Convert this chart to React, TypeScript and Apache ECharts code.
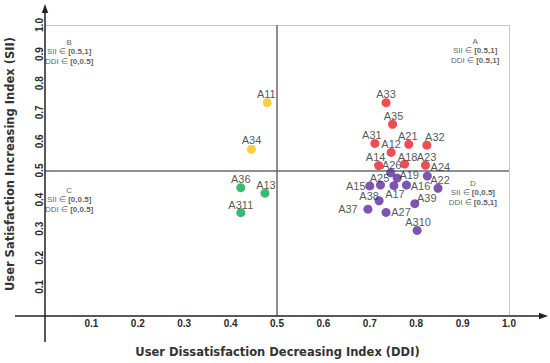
import React, { useEffect, useRef } from "react";
import * as echarts from "echarts";

// Point names and coordinates (DDI on x, SII on y)
const names = [
  "A11", "A12", "A13", "A14", "A15", "A16", "A17", "A18", "A19",
  "A21", "A22", "A23", "A24", "A25", "A26", "A27",
  "A31", "A32", "A33", "A34", "A35", "A36", "A37", "A38", "A39", "A310", "A311",
];
const ddi = [
  0.479, 0.746, 0.474, 0.719, 0.700, 0.779, 0.752, 0.775, 0.759,
  0.784, 0.847, 0.820, 0.824, 0.723, 0.745, 0.735,
  0.711, 0.823, 0.735, 0.445, 0.749, 0.422, 0.696, 0.720, 0.797, 0.802, 0.422,
];
const sii = [
  0.733, 0.562, 0.422, 0.517, 0.447, 0.450, 0.448, 0.522, 0.474,
  0.590, 0.439, 0.518, 0.481, 0.450, 0.492, 0.356,
  0.593, 0.587, 0.733, 0.573, 0.659, 0.441, 0.367, 0.396, 0.386, 0.294, 0.355,
];

// Axis tick labels
const ddiTicks = [0.1, 0.2, 0.3, 0.4, 0.5, 0.6, 0.7, 0.8, 0.9, 1.0];
const siiTicks = [0.1, 0.2, 0.3, 0.4, 0.5, 0.6, 0.7, 0.8, 0.9, 1.0];

// Quadrant annotations
const quadNames = ["A", "B", "C", "D"];
const quadSii = ["[0.5,1]", "[0.5,1]", "[0,0.5]", "[0,0.5]"];
const quadDdi = ["[0.5,1]", "[0,0.5]", "[0,0.5]", "[0.5,1]"];
const quadX = [0.927, 0.052, 0.052, 0.922];
const quadY = [0.911, 0.908, 0.399, 0.424];

// Label placement (styling, offset from point centre in px)
const labelOffset: Record<string, [number, number]> = {
  A33: [0, -9], A35: [1, -8.5], A31: [-3, -8], A21: [-1, -8.5], A32: [8, -8],
  A12: [0, -8.5], A14: [-3, -9], A26: [1, -7.5], A18: [3, -7.5], A23: [1, -8.5],
  A24: [13, -9], A25: [-1, -7.5], A19: [12, -3], A22: [2, -8.5], A15: [-14, 0],
  A16: [14, 0.5], A38: [-10, -5], A17: [1, 8.5], A39: [12, -5.5], A37: [-20, 0],
  A27: [15, 0], A310: [1, -8.5], A11: [-1, -9], A34: [0, -9], A36: [0, -8.5],
  A13: [1, -8], A311: [0, -7.5],
};

const groups = [
  { key: "A", color: "#ee1f26", test: (x: number, y: number) => x >= 0.5 && y >= 0.5 },
  { key: "B", color: "#f6c40f", test: (x: number, y: number) => x < 0.5 && y >= 0.5 },
  { key: "C", color: "#0aa650", test: (x: number, y: number) => x < 0.5 && y < 0.5 },
  { key: "D", color: "#5a2b9c", test: (x: number, y: number) => x >= 0.5 && y < 0.5 },
];

const FONT = "Liberation Sans, Arial, sans-serif";

export default function App() {
  const ref = useRef<HTMLDivElement>(null);

  useEffect(() => {
    if (!ref.current) return;
    const chart = echarts.init(ref.current, undefined, { renderer: "svg" });

    // plot area (data 0..1) in pixels
    const L = 45, T = 25, R = 509, B = 316;

    const pointSeries = groups.map((g) => ({
      type: "scatter",
      name: g.key,
      symbol: "circle",
      symbolSize: 9,
      itemStyle: { color: g.color },
      z: 5,
      data: names
        .map((n, i) => ({ n, i }))
        .filter(({ i }) => g.test(ddi[i], sii[i]))
        .map(({ n, i }) => ({
          name: n,
          value: [ddi[i], sii[i]],
          label: {
            show: true,
            position: "inside",
            offset: labelOffset[n] || [0, -9],
            formatter: n,
            color: "#2a2a2a",
            fontSize: 11,
            fontFamily: FONT,
          },
        })),
    }));

    const quadSeries = {
      type: "scatter",
      symbolSize: 0,
      silent: true,
      z: 3,
      data: quadNames.map((q, i) => ({
        value: [quadX[i], quadY[i]],
        label: {
          show: true,
          position: "inside",
          formatter: `{n|${q}}\n{n|SII ∈ }{b|${quadSii[i]}}\n{n|DDI ∈ }{b|${quadDdi[i]}}`,
          rich: {
            n: { fontSize: 8, color: "#333", lineHeight: 9.5, fontFamily: FONT },
            b: { fontSize: 8, fontWeight: "bold", color: "#333", lineHeight: 9.5, fontFamily: FONT },
          },
          align: "center",
        },
      })),
    };

    const lineSeries = {
      type: "scatter",
      data: [],
      silent: true,
      markLine: {
        silent: true,
        symbol: ["none", "none"],
        label: { show: false },
        animation: false,
        data: [
          [{ coord: [0, 1], lineStyle: { color: "#c8c8c8", width: 1, type: "solid" } }, { coord: [1, 1] }],
          [{ coord: [1, 0], lineStyle: { color: "#c8c8c8", width: 1, type: "solid" } }, { coord: [1, 1] }],
          [{ coord: [0, 0.5], lineStyle: { color: "#6a6a6a", width: 1.5, type: "solid" } }, { coord: [1, 0.5] }],
          [{ coord: [0.5, 0], lineStyle: { color: "#6a6a6a", width: 1.5, type: "solid" } }, { coord: [0.5, 1] }],
        ],
      },
    };

    const tickLabel = {
      fontSize: 10,
      fontWeight: "bold",
      color: "#2a2a2a",
      fontFamily: FONT,
    };

    chart.setOption({
      animation: false,
      backgroundColor: "#ffffff",
      grid: { left: L, right: 550 - R, top: T, bottom: 363 - B, containLabel: false, outerBoundsMode: "none" },
      xAxis: {
        type: "value",
        min: 0,
        max: 1,
        interval: 0.1,
        splitLine: { show: false },
        axisTick: { show: false },
        axisLine: { show: false },
        axisLabel: {
          ...tickLabel,
          margin: 2,
          customValues: ddiTicks,
          formatter: (v: number) => v.toFixed(1),
        },
      },
      yAxis: {
        type: "value",
        min: 0,
        max: 1,
        interval: 0.1,
        splitLine: { show: false },
        axisTick: { show: false },
        axisLine: { show: false },
        axisLabel: {
          ...tickLabel,
          rotate: 90,
          margin: 1,
          customValues: siiTicks,
          formatter: (v: number) => v.toFixed(1),
        },
      },
      graphic: [
        // x axis line with arrow
        { type: "line", shape: { x1: 15, y1: B, x2: 542, y2: B }, style: { stroke: "#222", lineWidth: 1.5 }, z: 10 },
        { type: "polygon", shape: { points: [[548, B], [539, B - 3.2], [539, B + 3.2]] }, style: { fill: "#222" }, z: 10 },
        // y axis line with arrow
        { type: "line", shape: { x1: L, y1: 342, x2: L, y2: 10 }, style: { stroke: "#222", lineWidth: 1.5 }, z: 10 },
        { type: "polygon", shape: { points: [[L, 4], [L - 3.2, 13], [L + 3.2, 13]] }, style: { fill: "#222" }, z: 10 },
        {
          type: "text",
          x: 277.5,
          y: 351.5,
          style: {
            text: "User Dissatisfaction Decreasing Index (DDI)",
            font: 'bold 11.5px "DejaVu Sans"',
            fill: "#333",
            textAlign: "center",
            textVerticalAlign: "middle",
          },
        },
        {
          type: "text",
          x: 10,
          y: 164,
          rotation: Math.PI / 2,
          style: {
            text: "User Satisfaction Increasing Index (SII)",
            font: 'bold 11.5px "DejaVu Sans"',
            fill: "#333",
            textAlign: "center",
            textVerticalAlign: "middle",
          },
        },
      ],
      series: [lineSeries, quadSeries, ...pointSeries],
    });

    return () => chart.dispose();
  }, []);

  return (
    <div
      ref={ref}
      style={{ position: "absolute", left: 0, top: 0, width: 550, height: 363, background: "#fff" }}
    />
  );
}
